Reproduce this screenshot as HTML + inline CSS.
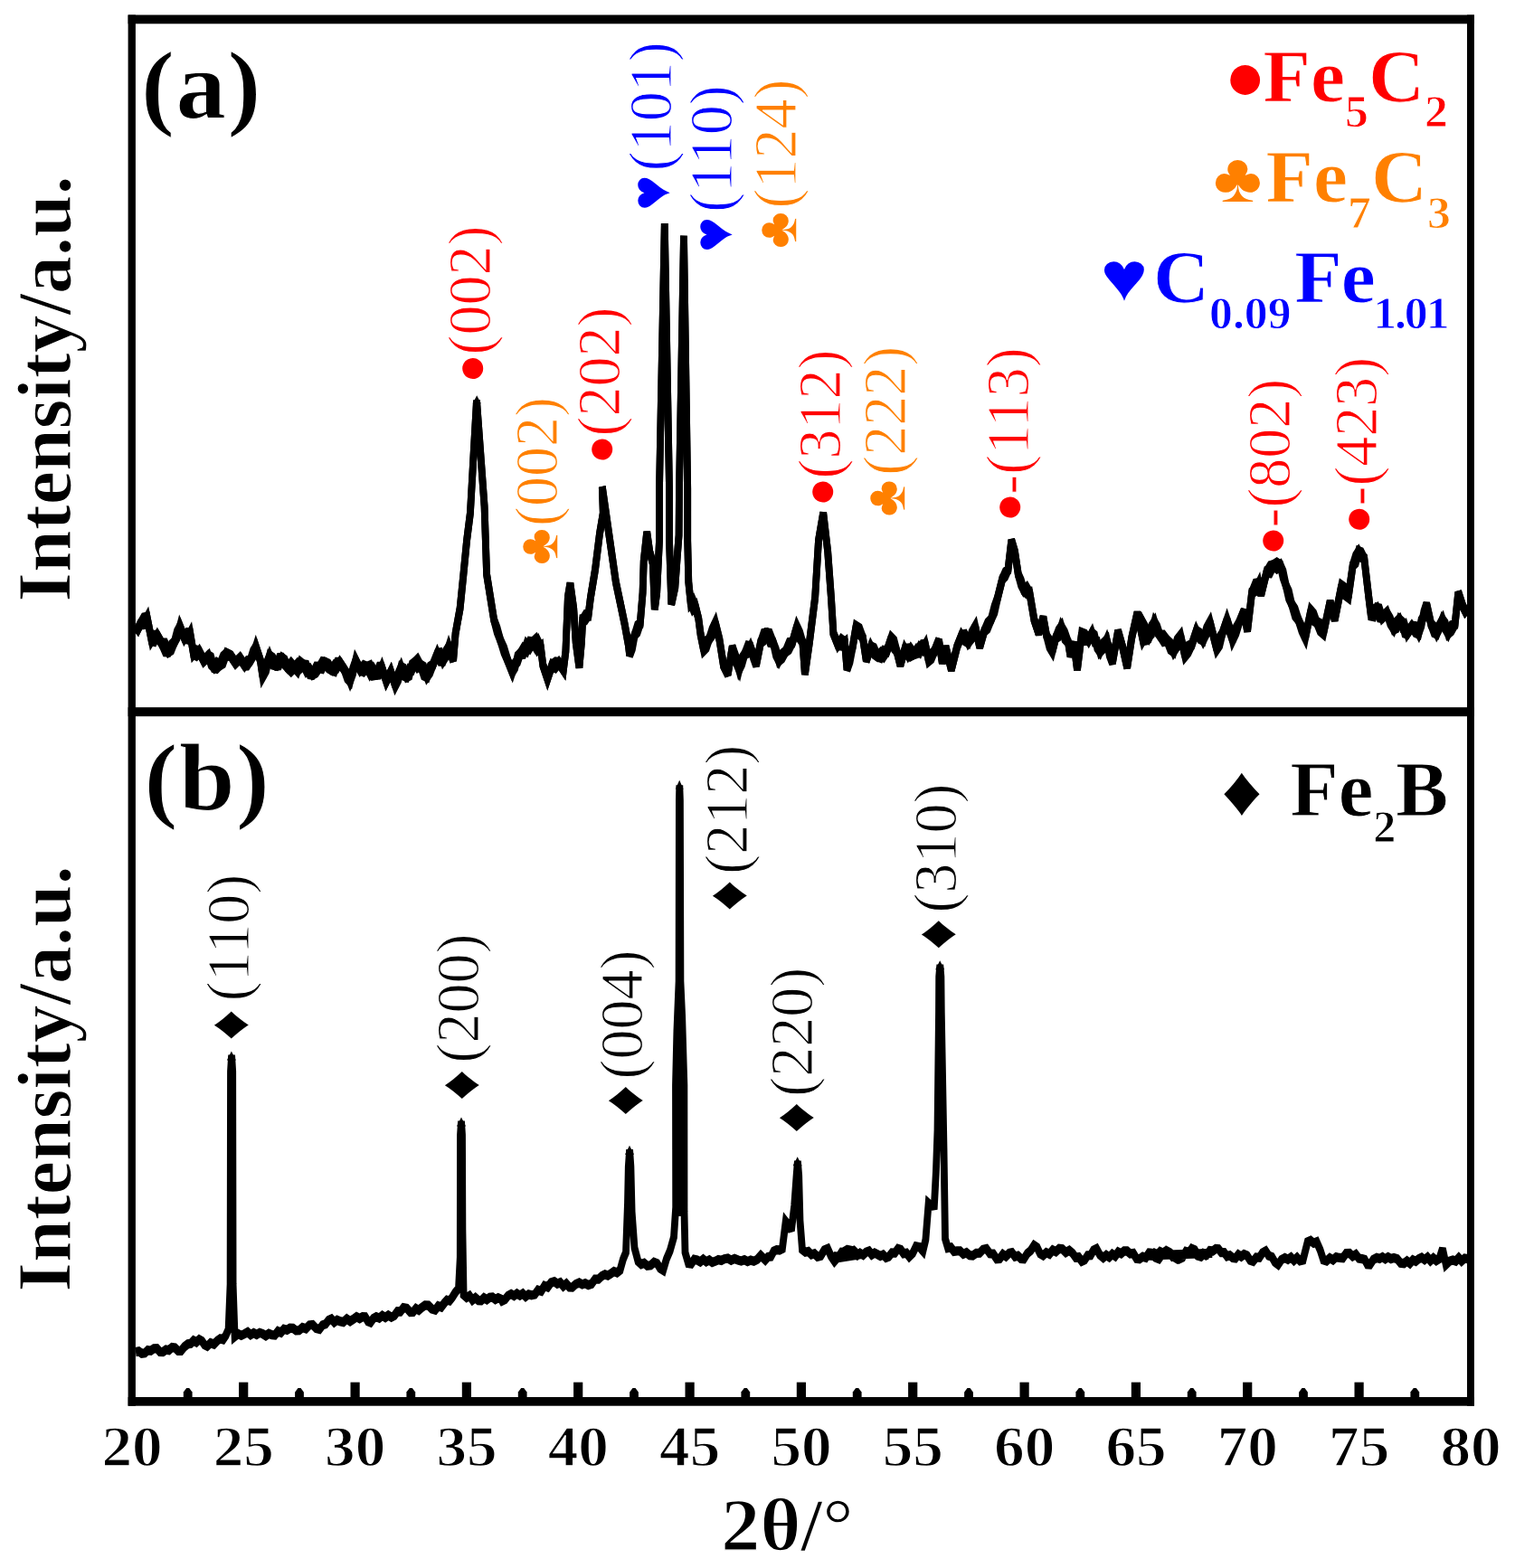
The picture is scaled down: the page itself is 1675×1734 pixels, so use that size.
<!DOCTYPE html>
<html lang="en">
<head>
<meta charset="utf-8">
<title>XRD patterns</title>
<style>
html,body{margin:0;padding:0;background:#fff;}
body{width:1675px;height:1734px;overflow:hidden;}
svg{display:block;}
text{font-family:"Liberation Serif","DejaVu Serif",serif;}
.b{font-weight:bold;}
.pk{font-size:66px;stroke:#fff;stroke-width:1.1px;}
.yl{stroke:#fff;stroke-width:1.2px;}
.tl text{font-size:64px;font-weight:bold;stroke:#fff;stroke-width:1.3px;}
.xl{stroke:#fff;stroke-width:1.4px;}
.ab{stroke:#fff;stroke-width:1px;}
.leg{font-size:83px;font-weight:bold;stroke:#fff;stroke-width:0.9px;}
.sub{font-size:50px;}
</style>
</head>
<body>
<svg width="1675" height="1734" viewBox="0 0 1675 1734">
<rect width="1675" height="1734" fill="#fff"/>
<!-- curves -->
<g fill="none" stroke="#000" stroke-width="7.8" stroke-linejoin="miter" stroke-miterlimit="2.2" stroke-linecap="butt">
<path transform="scale(1,1.6)" d="M150.0,437.76 L155.0,431.49 L158.8,427.29 L162.6,426.79 L167.6,442.46 L170.7,442.95 L173.9,439.33 L178.9,444.82 L182.6,444.82 L186.4,450.30 L189.5,449.04 L192.7,444.03 L195.8,436.59 L198.9,433.06 L203.9,440.90 L207.1,441.43 L210.2,437.76 L214.0,451.87 L217.1,449.73 L220.2,450.30 L225.3,456.57 L230.3,453.44 L233.4,459.32 L236.5,461.27 L239.7,458.30 L242.8,459.70 L246.6,458.27 L250.3,451.87 L255.3,453.44 L260.4,458.14 L265.4,455.00 L270.4,459.70 L273.5,456.95 L276.7,456.57 L279.8,453.44 L282.9,447.17 L287.9,456.57 L290.5,467.54 L294.2,459.31 L298.0,453.44 L301.7,459.09 L305.5,459.70 L308.6,455.05 L311.8,455.00 L314.9,459.22 L318.0,461.27 L321.8,458.43 L325.6,461.27 L328.9,463.56 L332.2,458.00 L335.6,459.70 L338.9,463.95 L342.3,462.58 L345.6,465.97 L349.4,464.66 L353.1,461.27 L356.3,457.71 L359.4,458.14 L363.2,461.61 L366.9,462.84 L369.9,459.91 L372.8,461.16 L375.7,458.14 L380.7,462.84 L383.9,465.69 L387.0,470.67 L390.1,465.50 L393.3,456.57 L398.3,462.84 L402.0,460.23 L405.8,461.27 L409.1,465.42 L412.5,462.43 L415.8,465.97 L419.0,465.82 L422.1,461.27 L427.1,470.67 L432.1,464.41 L437.1,473.81 L440.3,465.60 L443.4,461.27 L446.5,466.65 L449.7,467.54 L452.6,462.54 L455.5,462.80 L458.5,458.14 L461.6,456.05 L464.7,459.70 L468.5,466.49 L472.2,467.54 L475.4,461.05 L478.5,459.70 L483.5,451.87 L486.7,456.55 L489.8,456.57 L492.9,450.27 L496.1,447.17 L501.1,456.57 L503.6,437.76 L508.6,420.52 L512.4,397.02 L516.1,373.51 L519.9,354.70 L527.0,276.88 L535.6,350.00 L538.1,397.02 L546.1,428.36 L549.6,436.85 L553.2,442.46 L557.3,447.97 L561.4,456.57 L566.4,464.41 L569.4,461.36 L572.3,453.61 L575.2,451.87 L578.7,451.66 L582.1,445.36 L585.6,447.72 L589.0,444.03 L591.9,442.28 L594.9,448.71 L597.8,447.17 L600.3,459.70 L605.3,469.11 L610.3,459.70 L614.1,457.91 L617.9,458.14 L622.9,462.84 L625.4,450.30 L627.9,412.69 L630.4,403.28 L634.2,420.52 L636.7,444.03 L640.4,461.27 L642.9,444.03 L644.2,428.36 L647.3,428.19 L650.5,425.23 L653.0,412.69 L658.0,393.88 L663.0,368.81 L666.8,354.70 L665.8,336.56 L680.9,402.40 L685.8,416.82 L690.6,431.25 L694.8,445.67 L696.2,452.88 L699.0,442.96 L701.9,438.46 L704.8,436.74 L707.7,431.25 L710.6,409.61 L711.7,387.98 L715.2,367.79 L718.3,381.49 L721.8,389.42 L723.8,421.15 L726.2,409.61 L729.0,373.56 L729.0,337.50 L734.8,154.56 L740.0,337.50 L740.0,373.56 L742.3,417.54 L746.3,406.01 L748.8,384.37 L750.6,369.95 L751.0,337.50 L756.0,163.00 L760.2,337.50 L760.2,373.56 L761.3,402.40 L763.7,416.82 L766.2,415.07 L768.8,418.99 L772.3,427.64 L774.6,438.46 L778.1,449.27 L781.0,447.42 L783.8,442.06 L787.3,435.15 L790.8,430.53 L795.4,442.06 L800.0,460.09 L804.7,465.97 L809.7,447.17 L813.4,457.19 L817.2,462.84 L820.3,454.89 L823.5,451.87 L826.6,451.03 L829.7,447.17 L832.9,452.27 L836.0,459.70 L841.0,444.03 L844.2,442.53 L847.3,437.76 L851.1,438.09 L854.8,444.03 L857.9,452.72 L861.1,456.57 L864.8,452.21 L868.6,450.30 L872.4,448.63 L876.1,444.03 L881.1,433.06 L884.3,437.35 L887.4,444.03 L889.9,465.97 L894.9,444.03 L901.2,412.69 L905.0,373.51 L910.2,354.70 L915.2,381.34 L918.9,412.69 L921.4,437.76 L926.4,445.60 L930.2,445.93 L934.0,444.03 L936.5,462.84 L939.6,452.51 L942.7,447.17 L946.5,433.06 L950.3,438.32 L954.0,440.90 L957.8,456.57 L962.8,447.17 L966.6,448.25 L970.3,453.44 L973.7,454.23 L977.0,449.98 L980.4,450.30 L985.4,440.90 L988.5,447.97 L991.6,450.30 L995.4,459.70 L1000.4,448.73 L1003.8,448.53 L1007.1,453.03 L1010.5,451.87 L1013.6,449.08 L1016.7,450.53 L1019.9,445.76 L1023.0,445.60 L1026.8,456.57 L1029.9,454.95 L1033.0,450.30 L1038.0,442.46 L1041.8,458.14 L1045.6,447.17 L1051.8,462.84 L1058.1,447.17 L1063.1,439.33 L1066.9,438.86 L1070.6,444.03 L1074.4,441.05 L1078.2,433.06 L1083.2,447.17 L1088.2,436.20 L1091.9,430.70 L1095.7,428.36 L1099.5,423.18 L1103.2,412.69 L1108.2,400.15 L1111.4,395.62 L1114.5,393.88 L1118.3,373.51 L1122.0,381.34 L1125.8,397.02 L1128.9,404.24 L1132.1,407.99 L1135.2,406.17 L1138.3,409.55 L1143.4,428.36 L1148.4,437.76 L1153.4,426.79 L1157.1,439.33 L1160.3,447.02 L1163.4,450.30 L1167.2,440.90 L1170.3,435.79 L1173.4,433.06 L1177.2,441.40 L1181.0,444.03 L1183.5,453.44 L1187.2,444.03 L1191.0,462.84 L1196.0,437.76 L1199.8,438.71 L1203.5,442.46 L1207.3,437.76 L1210.2,443.43 L1213.1,443.67 L1216.1,450.30 L1219.8,448.00 L1223.6,442.46 L1226.7,448.74 L1229.9,458.14 L1236.1,436.20 L1241.1,447.17 L1246.2,461.27 L1251.2,440.90 L1257.4,423.66 L1263.7,442.46 L1267.5,442.04 L1271.2,439.33 L1258.8,425.23 L1263.8,437.76 L1266.9,438.16 L1270.0,440.90 L1273.2,437.51 L1276.3,429.93 L1279.4,433.17 L1282.6,439.33 L1286.3,443.03 L1290.1,442.46 L1293.9,444.68 L1297.6,450.30 L1301.4,446.67 L1305.2,439.33 L1310.2,453.44 L1313.9,446.72 L1317.7,445.60 L1322.7,436.20 L1326.5,441.24 L1330.2,442.46 L1334.0,434.12 L1337.7,429.93 L1345.3,448.73 L1348.4,445.87 L1351.5,437.76 L1356.6,428.36 L1359.7,434.06 L1362.8,442.46 L1366.6,437.49 L1370.3,429.93 L1375.4,422.09 L1379.1,436.20 L1384.1,409.55 L1387.9,403.72 L1391.7,403.28 L1394.2,411.12 L1400.4,395.45 L1404.2,395.63 L1408.0,390.75 L1411.7,389.27 L1415.5,390.75 L1418.6,399.16 L1421.8,404.85 L1424.9,408.73 L1428.0,417.39 L1431.8,425.64 L1435.5,428.36 L1439.3,433.26 L1443.1,440.90 L1449.3,422.09 L1452.5,428.79 L1455.6,429.93 L1459.4,431.19 L1463.1,437.76 L1470.6,415.82 L1475.7,428.36 L1483.2,404.85 L1486.9,410.90 L1490.7,412.69 L1495.7,390.75 L1498.9,384.25 L1502.0,381.34 L1505.1,384.90 L1508.3,386.05 L1513.3,412.69 L1515.8,425.23 L1518.9,421.80 L1522.1,420.52 L1525.2,426.46 L1528.3,426.79 L1533.3,423.66 L1537.1,427.69 L1540.9,434.63 L1544.0,433.82 L1547.1,428.36 L1550.1,430.01 L1553.0,437.17 L1555.9,437.76 L1560.9,433.06 L1564.7,433.29 L1568.4,437.76 L1571.4,432.53 L1574.3,422.85 L1577.2,417.39 L1582.2,431.49 L1585.4,436.98 L1588.5,437.76 L1591.6,431.93 L1594.8,428.36 L1597.9,434.49 L1601.0,437.76 L1604.8,432.58 L1608.6,431.49 L1612.3,409.55 L1617.3,418.96 L1622.4,425.23"/>
<path transform="scale(1,1.6)" d="M150.0,437.76 L155.0,431.49 L158.8,431.17 L162.6,426.79 L167.6,442.46 L170.7,439.25 L173.9,439.33 L178.9,444.82 L182.6,450.14 L186.4,450.30 L189.5,445.62 L192.7,444.03 L195.8,440.51 L198.9,433.06 L203.9,440.90 L207.1,437.68 L210.2,437.76 L214.0,451.87 L217.1,452.87 L220.2,450.30 L225.3,456.57 L230.3,453.44 L233.4,454.53 L236.5,461.27 L239.7,461.69 L242.8,459.70 L246.6,453.95 L250.3,451.87 L255.3,453.44 L260.4,458.14 L265.4,455.00 L270.4,459.70 L273.5,459.56 L276.7,456.57 L279.8,450.21 L282.9,447.17 L287.9,456.57 L290.5,467.54 L294.2,463.36 L298.0,453.44 L301.7,454.95 L305.5,459.70 L308.6,459.50 L311.8,455.00 L314.9,456.35 L318.0,461.27 L321.8,463.64 L325.6,461.27 L328.9,458.91 L332.2,461.55 L335.6,459.70 L338.9,459.98 L342.3,465.65 L345.6,465.97 L349.4,461.13 L353.1,461.27 L356.3,461.76 L359.4,458.14 L363.2,459.11 L366.9,462.84 L369.9,463.54 L372.8,458.14 L375.7,458.14 L380.7,462.84 L383.9,468.72 L387.0,470.67 L390.1,462.21 L393.3,456.57 L398.3,462.84 L402.0,463.83 L405.8,461.27 L409.1,460.36 L412.5,466.38 L415.8,465.97 L419.0,461.21 L422.1,461.27 L427.1,470.67 L432.1,464.41 L437.1,473.81 L440.3,469.96 L443.4,461.27 L446.5,462.30 L449.7,467.54 L452.6,466.62 L455.5,459.52 L458.5,458.14 L461.6,461.08 L464.7,459.70 L468.5,461.16 L472.2,467.54 L475.4,464.81 L478.5,459.70 L483.5,451.87 L486.7,451.46 L489.8,456.57 L492.9,453.56 L496.1,447.17 L501.1,456.57 L503.6,437.76 L508.6,420.52 L512.4,397.02 L516.1,373.51 L519.9,354.70 L527.0,276.88 L535.6,350.00 L538.1,397.02 L546.1,428.36 L549.6,434.15 L553.2,442.46 L557.3,450.80 L561.4,456.57 L566.4,464.41 L569.4,458.58 L572.3,457.18 L575.2,451.87 L578.7,448.16 L582.1,449.73 L585.6,443.76 L589.0,444.03 L591.9,446.96 L594.9,443.37 L597.8,447.17 L600.3,459.70 L605.3,469.11 L610.3,459.70 L614.1,461.16 L617.9,458.14 L622.9,462.84 L625.4,450.30 L627.9,412.69 L630.4,403.28 L634.2,420.52 L636.7,444.03 L640.4,461.27 L642.9,444.03 L644.2,428.36 L647.3,425.19 L650.5,425.23 L653.0,412.69 L658.0,393.88 L663.0,368.81 L666.8,354.70 L665.8,336.56 L680.9,402.40 L685.8,416.82 L690.6,431.25 L694.8,445.67 L696.2,452.88 L699.0,448.31 L701.9,438.46 L704.8,432.54 L707.7,431.25 L710.6,409.61 L711.7,387.98 L715.2,367.79 L718.3,381.49 L721.8,389.42 L723.8,421.15 L726.2,409.61 L729.0,373.56 L729.0,337.50 L734.8,154.56 L740.0,337.50 L740.0,373.56 L742.3,417.54 L746.3,406.01 L748.8,384.37 L750.6,369.95 L751.0,337.50 L756.0,163.00 L760.2,337.50 L760.2,373.56 L761.3,402.40 L763.7,416.82 L766.2,420.72 L768.8,418.99 L772.3,427.64 L774.6,438.46 L778.1,449.27 L781.0,443.29 L783.8,442.06 L787.3,439.11 L790.8,430.53 L795.4,442.06 L800.0,460.09 L804.7,465.97 L809.7,447.17 L813.4,453.61 L817.2,462.84 L820.3,458.88 L823.5,451.87 L826.6,446.69 L829.7,447.17 L832.9,454.48 L836.0,459.70 L841.0,444.03 L844.2,438.17 L847.3,437.76 L851.1,443.61 L854.8,444.03 L857.9,449.04 L861.1,456.57 L864.8,454.72 L868.6,450.30 L872.4,444.45 L876.1,444.03 L881.1,433.06 L884.3,441.35 L887.4,444.03 L889.9,465.97 L894.9,444.03 L901.2,412.69 L905.0,373.51 L910.2,354.70 L915.2,381.34 L918.9,412.69 L921.4,437.76 L926.4,445.60 L930.2,442.18 L934.0,444.03 L936.5,462.84 L939.6,457.36 L942.7,447.17 L946.5,433.06 L950.3,434.55 L954.0,440.90 L957.8,456.57 L962.8,447.17 L966.6,451.88 L970.3,453.44 L973.7,451.37 L977.0,453.53 L980.4,450.30 L985.4,440.90 L988.5,442.94 L991.6,450.30 L995.4,459.70 L1000.4,448.73 L1003.8,452.56 L1007.1,448.85 L1010.5,451.87 L1013.6,451.32 L1016.7,447.40 L1019.9,449.01 L1023.0,445.60 L1026.8,456.57 L1029.9,452.00 L1033.0,450.30 L1038.0,442.46 L1041.8,458.14 L1045.6,447.17 L1051.8,462.84 L1058.1,447.17 L1063.1,439.33 L1066.9,442.74 L1070.6,444.03 L1074.4,437.18 L1078.2,433.06 L1083.2,447.17 L1088.2,436.20 L1091.9,434.22 L1095.7,428.36 L1099.5,419.28 L1103.2,412.69 L1108.2,400.15 L1111.4,398.23 L1114.5,393.88 L1118.3,373.51 L1122.0,381.34 L1125.8,397.02 L1128.9,401.19 L1132.1,407.99 L1135.2,409.84 L1138.3,409.55 L1143.4,428.36 L1148.4,437.76 L1153.4,426.79 L1157.1,439.33 L1160.3,442.35 L1163.4,450.30 L1167.2,440.90 L1170.3,439.60 L1173.4,433.06 L1177.2,437.16 L1181.0,444.03 L1183.5,453.44 L1187.2,444.03 L1191.0,462.84 L1196.0,437.76 L1199.8,442.31 L1203.5,442.46 L1207.3,437.76 L1210.2,439.30 L1213.1,447.58 L1216.1,450.30 L1219.8,444.75 L1223.6,442.46 L1226.7,452.95 L1229.9,458.14 L1236.1,436.20 L1241.1,447.17 L1246.2,461.27 L1251.2,440.90 L1257.4,423.66 L1263.7,442.46 L1267.5,438.47 L1271.2,439.33 L1258.8,425.23 L1263.8,437.76 L1266.9,441.50 L1270.0,440.90 L1273.2,432.92 L1276.3,429.93 L1279.4,436.71 L1282.6,439.33 L1286.3,439.30 L1290.1,442.46 L1293.9,448.67 L1297.6,450.30 L1301.4,442.34 L1305.2,439.33 L1310.2,453.44 L1313.9,450.63 L1317.7,445.60 L1322.7,436.20 L1326.5,437.72 L1330.2,442.46 L1334.0,437.75 L1337.7,429.93 L1345.3,448.73 L1348.4,440.59 L1351.5,437.76 L1356.6,428.36 L1359.7,436.96 L1362.8,442.46 L1366.6,433.93 L1370.3,429.93 L1375.4,422.09 L1379.1,436.20 L1384.1,409.55 L1387.9,408.24 L1391.7,403.28 L1394.2,411.12 L1400.4,395.45 L1404.2,391.38 L1408.0,390.75 L1411.7,392.69 L1415.5,390.75 L1418.6,395.12 L1421.8,404.85 L1424.9,413.36 L1428.0,417.39 L1431.8,421.14 L1435.5,428.36 L1439.3,435.92 L1443.1,440.90 L1449.3,422.09 L1452.5,424.36 L1455.6,429.93 L1459.4,435.73 L1463.1,437.76 L1470.6,415.82 L1475.7,428.36 L1483.2,404.85 L1486.9,406.56 L1490.7,412.69 L1495.7,390.75 L1498.9,388.92 L1502.0,381.34 L1505.1,382.08 L1508.3,386.05 L1513.3,412.69 L1515.8,425.23 L1518.9,425.64 L1522.1,420.52 L1525.2,420.95 L1528.3,426.79 L1533.3,423.66 L1537.1,430.98 L1540.9,434.63 L1544.0,430.07 L1547.1,428.36 L1550.1,432.94 L1553.0,431.90 L1555.9,437.76 L1560.9,433.06 L1564.7,436.74 L1568.4,437.76 L1571.4,428.75 L1574.3,426.41 L1577.2,417.39 L1582.2,431.49 L1585.4,433.31 L1588.5,437.76 L1591.6,434.13 L1594.8,428.36 L1597.9,430.86 L1601.0,437.76 L1604.8,435.73 L1608.6,431.49 L1612.3,409.55 L1617.3,418.96 L1622.4,425.23"/>
<path transform="scale(1,1.32)" d="M150.0,1132.62 L153.4,1132.09 L156.7,1133.94 L160.1,1133.57 L163.4,1131.14 L166.8,1131.64 L170.1,1129.77 L173.5,1129.66 L176.8,1132.56 L180.1,1132.62 L183.5,1130.77 L186.8,1131.12 L190.2,1128.82 L193.5,1129.21 L196.9,1131.68 L200.2,1131.67 L204.0,1128.22 L207.7,1125.97 L210.9,1125.64 L214.0,1123.12 L217.1,1124.46 L220.3,1122.17 L223.2,1123.42 L226.1,1126.72 L229.1,1127.87 L232.8,1125.14 L236.6,1126.17 L240.4,1123.12 L243.5,1121.55 L246.6,1122.17 L249.6,1118.82 L252.6,1113.64 L254.6,1075.76 L255.0,897.73 L256.1,884.09 L257.2,897.73 L257.6,1075.76 L259.6,1119.70 L263.2,1117.45 L266.8,1118.75 L270.5,1117.42 L273.8,1116.04 L277.1,1118.23 L280.5,1116.75 L283.8,1118.06 L287.2,1116.58 L290.5,1117.42 L293.9,1119.07 L297.2,1117.34 L300.6,1118.37 L303.9,1118.52 L307.3,1115.31 L310.6,1116.42 L313.9,1113.50 L317.3,1114.21 L320.6,1112.67 L324.0,1112.71 L327.3,1114.67 L330.7,1114.57 L334.4,1112.18 L338.2,1113.14 L342.0,1110.16 L345.7,1109.82 L349.5,1112.82 L353.2,1113.62 L356.6,1110.11 L359.9,1109.37 L363.3,1106.01 L366.4,1104.94 L369.6,1107.71 L372.7,1105.96 L375.8,1106.97 L379.6,1107.59 L383.4,1104.97 L387.1,1106.93 L390.9,1105.06 L394.2,1103.18 L397.6,1104.61 L400.9,1103.16 L403.8,1103.25 L406.8,1106.98 L409.7,1107.92 L412.8,1104.60 L416.0,1103.16 L419.3,1104.28 L422.7,1102.17 L426.0,1103.70 L429.3,1101.96 L432.7,1103.56 L436.0,1102.21 L439.4,1098.71 L442.7,1098.87 L446.1,1095.56 L449.8,1096.07 L453.6,1099.36 L456.7,1099.25 L459.9,1096.25 L463.0,1097.63 L466.1,1095.56 L469.9,1093.51 L473.7,1093.66 L477.4,1096.54 L481.2,1097.46 L484.5,1094.20 L487.9,1095.12 L491.2,1091.76 L494.2,1089.18 L497.1,1089.78 L500.0,1087.01 L503.5,1082.69 L507.0,1079.55 L508.8,1053.03 L509.0,950.76 L510.0,939.39 L511.0,950.76 L511.4,1030.30 L512.6,1084.85 L515.9,1087.00 L519.1,1085.53 L522.4,1089.14 L525.6,1087.21 L528.9,1089.48 L532.0,1089.67 L535.1,1087.33 L538.3,1088.82 L541.4,1087.01 L544.5,1086.79 L547.7,1088.66 L550.8,1087.31 L553.9,1088.34 L555.1,1089.86 L558.4,1088.60 L561.7,1085.47 L565.1,1084.16 L568.3,1085.58 L571.5,1083.77 L574.8,1085.34 L578.0,1083.79 L581.2,1086.23 L584.4,1084.36 L587.7,1085.11 L591.3,1084.45 L594.8,1080.78 L598.4,1081.62 L602.0,1077.26 L605.6,1078.34 L609.2,1074.53 L612.8,1073.70 L616.1,1075.44 L619.4,1074.41 L622.8,1077.48 L626.1,1075.40 L629.5,1078.34 L632.8,1078.46 L636.6,1075.85 L640.4,1074.66 L643.7,1076.05 L647.0,1075.16 L650.4,1076.56 L654.1,1075.66 L657.9,1071.64 L661.7,1071.64 L665.4,1068.95 L668.8,1067.79 L672.1,1068.63 L675.5,1067.05 L678.8,1065.21 L682.2,1066.24 L685.5,1064.20 L688.8,1055.25 L692.0,1049.24 L694.0,1007.58 L694.8,977.27 L696.1,963.26 L697.4,977.27 L698.6,1015.15 L701.5,1045.45 L705.5,1056.82 L708.9,1059.22 L712.2,1058.17 L715.6,1060.40 L719.4,1060.11 L723.1,1057.55 L726.5,1058.57 L729.8,1062.57 L733.2,1064.20 L736.9,1054.71 L740.7,1048.05 L745.0,1036.36 L747.2,1011.36 L747.0,909.09 L748.4,863.64 L750.6,821.97 L750.9,670.45 L751.3,657.95 L751.9,670.45 L752.4,821.97 L754.2,852.27 L756.4,909.09 L756.5,1015.15 L757.5,1049.24 L761.0,1058.33 L764.3,1058.74 L767.5,1055.15 L770.8,1055.65 L774.2,1057.12 L777.5,1055.05 L780.8,1057.05 L784.2,1055.65 L787.5,1057.60 L790.9,1056.60 L794.2,1055.37 L797.6,1055.93 L800.9,1054.70 L804.7,1054.20 L808.4,1055.86 L812.2,1054.55 L816.0,1055.65 L819.5,1056.42 L823.0,1055.50 L826.5,1056.90 L830.0,1055.78 L833.5,1056.60 L837.3,1055.11 L841.1,1051.85 L846.1,1055.65 L849.2,1052.96 L852.3,1052.76 L855.5,1048.10 L858.6,1047.10 L861.8,1047.30 L864.9,1046.15 L868.7,1023.34 L871.8,1026.36 L874.9,1030.94 L878.2,1010.04 L880.6,984.85 L881.9,972.73 L883.2,984.85 L884.5,1022.73 L887.0,1046.97 L890.4,1049.01 L893.7,1048.41 L897.1,1051.12 L900.4,1050.27 L903.8,1052.80 L907.5,1052.09 L911.3,1047.37 L915.1,1046.15 L918.8,1052.38 L922.6,1056.60 L926.0,1053.61 L929.5,1052.48 L932.9,1048.60 L936.4,1047.10 L940.2,1048.84 L943.9,1047.65 L947.7,1050.64 L951.4,1050.90 L920.0,1054.70 L923.5,1052.63 L927.0,1053.12 L930.5,1049.09 L934.0,1049.29 L937.6,1047.10 L940.9,1047.62 L944.3,1050.82 L947.6,1051.85 L950.9,1049.85 L954.3,1051.44 L957.6,1049.00 L960.8,1048.09 L963.9,1051.16 L967.0,1049.64 L970.2,1050.90 L973.3,1052.26 L976.4,1051.15 L979.6,1053.61 L982.7,1052.80 L986.1,1049.53 L989.4,1049.66 L992.8,1046.15 L995.9,1046.95 L999.0,1050.22 L1002.2,1049.81 L1005.3,1052.80 L1009.1,1050.02 L1012.8,1044.25 L1016.6,1044.78 L1020.4,1048.05 L1023.4,1038.54 L1026.6,1008.13 L1029.8,1010.41 L1032.9,1010.04 L1034.9,981.53 L1036.5,946.97 L1038.0,848.48 L1038.2,818.18 L1039.3,808.33 L1040.4,818.18 L1040.8,848.48 L1043.5,962.12 L1045.0,1037.88 L1048.0,1045.45 L1051.3,1044.98 L1054.7,1048.44 L1058.0,1048.05 L1061.5,1048.05 L1065.0,1050.61 L1068.5,1049.45 L1072.0,1051.65 L1075.5,1051.85 L1079.3,1049.86 L1083.1,1049.80 L1086.8,1046.79 L1090.6,1046.15 L1094.4,1050.21 L1098.1,1050.38 L1101.9,1054.70 L1105.3,1054.48 L1108.8,1050.87 L1112.2,1052.64 L1115.7,1049.95 L1118.9,1049.43 L1122.2,1052.74 L1125.5,1052.05 L1128.7,1054.50 L1132.0,1054.70 L1135.8,1050.17 L1139.5,1047.83 L1143.3,1043.30 L1146.6,1045.00 L1150.0,1050.41 L1153.3,1051.85 L1156.8,1049.35 L1160.3,1050.57 L1163.9,1047.25 L1167.4,1048.60 L1170.9,1046.15 L1174.6,1046.48 L1178.4,1049.23 L1182.2,1047.57 L1185.9,1049.95 L1189.3,1053.47 L1192.6,1053.11 L1196.0,1056.60 L1199.2,1055.51 L1202.5,1051.71 L1205.8,1051.64 L1209.0,1047.38 L1212.3,1046.15 L1216.0,1051.27 L1219.8,1053.75 L1223.1,1051.55 L1226.4,1053.24 L1229.7,1050.68 L1233.0,1052.36 L1236.3,1048.94 L1239.6,1050.17 L1242.8,1048.10 L1246.1,1048.05 L1249.6,1050.39 L1253.0,1049.95 L1256.5,1054.36 L1259.9,1054.70 L1263.4,1052.84 L1266.8,1053.67 L1270.3,1049.64 L1273.7,1049.95 L1277.5,1053.50 L1281.3,1054.70 L1284.2,1051.61 L1287.1,1051.33 L1290.0,1048.05 L1293.8,1049.61 L1297.6,1053.03 L1301.3,1054.70 L1304.6,1051.50 L1307.9,1052.45 L1311.1,1048.52 L1314.4,1049.31 L1317.6,1046.15 L1320.6,1047.09 L1323.5,1051.34 L1326.4,1051.85 L1329.9,1050.03 L1333.3,1051.64 L1336.8,1049.64 L1340.2,1049.95 L1270.1,1051.85 L1273.2,1052.03 L1276.3,1049.81 L1279.5,1051.06 L1282.6,1048.53 L1285.7,1049.62 L1288.9,1048.05 L1292.6,1049.05 L1296.4,1052.80 L1300.2,1052.16 L1303.9,1054.70 L1307.4,1053.54 L1310.8,1049.32 L1314.3,1049.71 L1317.7,1046.15 L1321.1,1047.42 L1324.4,1052.02 L1327.8,1052.80 L1331.0,1050.44 L1334.3,1051.19 L1337.5,1047.76 L1340.8,1048.03 L1344.1,1046.15 L1347.2,1046.45 L1350.3,1049.39 L1353.5,1049.41 L1356.6,1052.53 L1359.7,1051.78 L1362.9,1053.75 L1366.0,1054.03 L1369.1,1051.08 L1372.3,1052.69 L1375.4,1050.90 L1378.8,1051.95 L1382.1,1055.74 L1385.5,1056.60 L1388.9,1053.38 L1392.4,1053.63 L1395.8,1049.55 L1399.3,1048.05 L1402.7,1051.98 L1406.2,1052.97 L1409.6,1057.40 L1413.1,1059.45 L1416.8,1055.31 L1420.6,1053.75 L1423.9,1055.10 L1427.3,1053.30 L1430.6,1055.98 L1434.0,1053.59 L1437.3,1056.30 L1440.6,1055.65 L1445.7,1040.44 L1449.0,1039.31 L1452.4,1041.47 L1455.7,1040.44 L1459.5,1047.01 L1463.2,1055.65 L1466.7,1056.48 L1470.3,1053.91 L1473.8,1055.56 L1477.3,1053.13 L1480.8,1053.75 L1484.6,1053.94 L1488.3,1050.00 L1492.1,1049.95 L1495.5,1052.53 L1499.0,1050.87 L1502.4,1054.30 L1505.9,1054.70 L1508.8,1055.20 L1511.7,1059.33 L1514.7,1059.45 L1518.4,1055.24 L1522.2,1053.75 L1525.3,1054.41 L1528.5,1053.10 L1531.6,1054.71 L1534.7,1053.15 L1537.9,1054.52 L1541.0,1053.75 L1544.8,1054.73 L1548.5,1058.11 L1552.3,1058.50 L1555.6,1056.44 L1558.8,1058.39 L1562.1,1055.54 L1565.3,1056.69 L1568.6,1054.70 L1571.8,1053.52 L1575.0,1055.37 L1578.3,1053.30 L1581.5,1056.18 L1584.7,1053.95 L1588.0,1056.17 L1591.2,1054.70 L1594.9,1046.15 L1598.7,1059.45 L1602.5,1056.63 L1606.2,1055.65 L1609.5,1056.47 L1612.8,1053.76 L1616.0,1056.43 L1619.3,1054.20 L1622.5,1054.70"/>
</g>
<!-- peak tips -->
<g fill="#000">
<path d="M250.9,1172.5 L255.9,1162.5 L260.9,1172.5 Z"/>
<path d="M505.0,1245.4 L510.0,1235.4 L515.0,1245.4 Z"/>
<path d="M691.0,1276.8 L696.0,1266.8 L701.0,1276.8 Z"/>
<path d="M746.8,872.8 L751.2,862.8 L755.6,872.8 Z"/>
<path d="M876.7,1289.3 L881.7,1279.3 L886.7,1289.3 Z"/>
<path d="M1034.2,1072.2 L1039.2,1062.2 L1044.2,1072.2 Z"/>
<path d="M522.6,446.2 L527.2,437.2 L531.8,446.2 Z"/>
<rect x="749" y="1095" width="6" height="250"/>
</g>
<!-- frame -->
<g fill="#000">
<rect x="141.6" y="16.5" width="1488.3" height="9.8"/>
<rect x="141.6" y="782.2" width="1488.3" height="10"/>
<rect x="141.6" y="1545" width="1488.3" height="9.7"/>
<rect x="141.6" y="16.5" width="8.3" height="1538.2"/>
<rect x="1622" y="16.5" width="7.9" height="1538.2"/>
<path d="M202.8,1547 V1539.5 L206.2,1535 H209.2 L212.6,1539.5 V1547 Z"/>
<rect x="264.1" y="1528.6" width="10.2" height="18"/>
<path d="M326.1,1547 V1539.5 L329.5,1535 H332.5 L335.9,1539.5 V1547 Z"/>
<rect x="387.5" y="1528.6" width="10.2" height="18"/>
<path d="M449.4,1547 V1539.5 L452.8,1535 H455.8 L459.2,1539.5 V1547 Z"/>
<rect x="510.8" y="1528.6" width="10.2" height="18"/>
<path d="M572.8,1547 V1539.5 L576.2,1535 H579.2 L582.6,1539.5 V1547 Z"/>
<rect x="634.1" y="1528.6" width="10.2" height="18"/>
<path d="M696.1,1547 V1539.5 L699.5,1535 H702.5 L705.9,1539.5 V1547 Z"/>
<rect x="757.5" y="1528.6" width="10.2" height="18"/>
<path d="M819.4,1547 V1539.5 L822.8,1535 H825.8 L829.2,1539.5 V1547 Z"/>
<rect x="880.8" y="1528.6" width="10.2" height="18"/>
<path d="M942.8,1547 V1539.5 L946.2,1535 H949.2 L952.6,1539.5 V1547 Z"/>
<rect x="1004.1" y="1528.6" width="10.2" height="18"/>
<path d="M1066.1,1547 V1539.5 L1069.5,1535 H1072.5 L1075.9,1539.5 V1547 Z"/>
<rect x="1127.5" y="1528.6" width="10.2" height="18"/>
<path d="M1189.4,1547 V1539.5 L1192.8,1535 H1195.8 L1199.2,1539.5 V1547 Z"/>
<rect x="1250.8" y="1528.6" width="10.2" height="18"/>
<path d="M1312.8,1547 V1539.5 L1316.2,1535 H1319.2 L1322.6,1539.5 V1547 Z"/>
<rect x="1374.1" y="1528.6" width="10.2" height="18"/>
<path d="M1436.1,1547 V1539.5 L1439.5,1535 H1442.5 L1445.9,1539.5 V1547 Z"/>
<rect x="1497.5" y="1528.6" width="10.2" height="18"/>
<path d="M1559.4,1547 V1539.5 L1562.8,1535 H1565.8 L1569.2,1539.5 V1547 Z"/>
</g>
<g class="tl" fill="#000">
<text transform="translate(146.0,1620.7) scale(1.05,1)" text-anchor="middle">20</text>
<text transform="translate(269.3,1620.7) scale(1.05,1)" text-anchor="middle">25</text>
<text transform="translate(392.7,1620.7) scale(1.05,1)" text-anchor="middle">30</text>
<text transform="translate(516.0,1620.7) scale(1.05,1)" text-anchor="middle">35</text>
<text transform="translate(639.3,1620.7) scale(1.05,1)" text-anchor="middle">40</text>
<text transform="translate(762.7,1620.7) scale(1.05,1)" text-anchor="middle">45</text>
<text transform="translate(886.0,1620.7) scale(1.05,1)" text-anchor="middle">50</text>
<text transform="translate(1009.3,1620.7) scale(1.05,1)" text-anchor="middle">55</text>
<text transform="translate(1132.7,1620.7) scale(1.05,1)" text-anchor="middle">60</text>
<text transform="translate(1256.0,1620.7) scale(1.05,1)" text-anchor="middle">65</text>
<text transform="translate(1379.3,1620.7) scale(1.05,1)" text-anchor="middle">70</text>
<text transform="translate(1502.7,1620.7) scale(1.05,1)" text-anchor="middle">75</text>
<text transform="translate(1626.0,1620.7) scale(1.05,1)" text-anchor="middle">80</text>
</g>
<text transform="translate(870.5,1714) scale(1.05,1)" text-anchor="middle" class="b xl" font-size="82">2θ/°</text>
<text transform="translate(78,430) rotate(-90)" text-anchor="middle" class="b yl" font-size="84">Intensity/a.u.</text>
<text transform="translate(78,1193) rotate(-90)" text-anchor="middle" class="b yl" font-size="84">Intensity/a.u.</text>
<text transform="translate(156,130.2) scale(1.045,1)" class="b ab" font-size="106" letter-spacing="1.5">(a)</text>
<text transform="translate(159.5,896) scale(1.045,1)" class="b ab" font-size="106" letter-spacing="1.5">(b)</text>
<!-- legend -->
<g fill="#ff0000" class="leg">
<text transform="translate(1376.5,88.6) scale(1.192,1.192)" x="-19.36" y="18.08" fill="#ff0000" style="font-size:64px;font-weight:normal;stroke:none">●</text>
<text transform="translate(1396.5,112) scale(1.035,1)">Fe<tspan class="sub" dy="27.5">5</tspan><tspan dy="-27.5">C</tspan><tspan class="sub" dy="27.5">2</tspan></text>
</g>
<g fill="#ff8000" class="leg">
<text transform="translate(1368.5,199.6) scale(1.281,1.203)" x="-21.04" y="19.12" fill="#ff8000" style="font-size:64px;font-weight:normal;stroke:none">♣</text>
<text transform="translate(1399.5,222.6) scale(1.035,1)">Fe<tspan class="sub" dy="29.5">7</tspan><tspan dy="-29.5">C</tspan><tspan class="sub" dy="29.5">3</tspan></text>
</g>
<g fill="#0000ff" class="leg">
<text transform="translate(1243.0,311.2) scale(1.389,1.195)" x="-19.04" y="17.68" fill="#0000ff" style="font-size:64px;font-weight:normal;stroke:none">♥</text>
<text transform="translate(1275,334) scale(1.035,1)">C<tspan class="sub" dy="28.5">0.09</tspan><tspan dy="-28.5" dx="3.5" letter-spacing="-1">Fe</tspan><tspan class="sub" dy="28.5" dx="-1.5" letter-spacing="-2">1.01</tspan></text>
</g>
<g fill="#000" class="leg">
<text transform="translate(1373.0,878.3) scale(1.376,1.209)" x="-16.32" y="18.72" fill="#000" style="font-size:64px;font-weight:normal;stroke:none">♦</text>
<text transform="translate(1426.5,902) scale(1.0,1)" font-size="87">Fe<tspan class="sub" font-size="52" dy="29">2</tspan><tspan dy="-29">B</tspan></text>
</g>
<!-- peak labels -->
<text transform="translate(541.8,392.5) scale(1.02,1) rotate(-90)" fill="#ff0000" class="pk">(002)</text>
<text transform="translate(523.0,407.7) rotate(-90) scale(0.836,0.836)" x="-19.36" y="18.08" fill="#ff0000" style="font-size:64px;font-weight:normal;stroke:none">●</text>
<text transform="translate(616,582) scale(1.02,1) rotate(-90)" fill="#ff8000" class="pk">(002)</text>
<text transform="translate(596.8,604.4) rotate(-90) scale(0.968,0.994)" x="-21.04" y="19.12" fill="#ff8000" style="font-size:64px;font-weight:normal;stroke:none">♣</text>
<text transform="translate(685,482.5) scale(1.02,1) rotate(-90)" fill="#ff0000" class="pk">(202)</text>
<text transform="translate(666.0,497.0) rotate(-90) scale(0.836,0.836)" x="-19.36" y="18.08" fill="#ff0000" style="font-size:64px;font-weight:normal;stroke:none">●</text>
<text transform="translate(741.5,189.3) scale(1.02,1) rotate(-90)" fill="#0000ff" class="pk">(101)</text>
<text transform="translate(723.3,213.2) rotate(-90) scale(1.042,0.972)" x="-19.04" y="17.68" fill="#0000ff" style="font-size:64px;font-weight:normal;stroke:none">♥</text>
<text transform="translate(809,234.7) scale(1.02,1) rotate(-90)" fill="#0000ff" class="pk">(110)</text>
<text transform="translate(791.6,259.5) rotate(-90) scale(1.042,0.972)" x="-19.04" y="17.68" fill="#0000ff" style="font-size:64px;font-weight:normal;stroke:none">♥</text>
<text transform="translate(880,230.5) scale(1.02,1) rotate(-90)" fill="#ff8000" class="pk">(124)</text>
<text transform="translate(861.0,254.3) rotate(-90) scale(0.968,0.994)" x="-21.04" y="19.12" fill="#ff8000" style="font-size:64px;font-weight:normal;stroke:none">♣</text>
<text transform="translate(929,529.5) scale(1.02,1) rotate(-90)" fill="#ff0000" class="pk">(312)</text>
<text transform="translate(910.0,544.0) rotate(-90) scale(0.836,0.836)" x="-19.36" y="18.08" fill="#ff0000" style="font-size:64px;font-weight:normal;stroke:none">●</text>
<text transform="translate(1000.5,525.8) scale(1.02,1) rotate(-90)" fill="#ff8000" class="pk">(222)</text>
<text transform="translate(981.0,551.0) rotate(-90) scale(0.968,0.994)" x="-21.04" y="19.12" fill="#ff8000" style="font-size:64px;font-weight:normal;stroke:none">♣</text>
<text transform="translate(1137,546.8) scale(1.02,1) rotate(-90)" fill="#ff0000" class="pk">-(113)</text>
<text transform="translate(1116.7,561.0) rotate(-90) scale(0.836,0.836)" x="-19.36" y="18.08" fill="#ff0000" style="font-size:64px;font-weight:normal;stroke:none">●</text>
<text transform="translate(1425.5,583.6) scale(1.02,1) rotate(-90)" fill="#ff0000" class="pk">-(802)</text>
<text transform="translate(1407.5,598.2) rotate(-90) scale(0.836,0.836)" x="-19.36" y="18.08" fill="#ff0000" style="font-size:64px;font-weight:normal;stroke:none">●</text>
<text transform="translate(1522,559.6) scale(1.02,1) rotate(-90)" fill="#ff0000" class="pk">-(423)</text>
<text transform="translate(1503.0,574.4) rotate(-90) scale(0.836,0.836)" x="-19.36" y="18.08" fill="#ff0000" style="font-size:64px;font-weight:normal;stroke:none">●</text>
<text transform="translate(275.2,1107.2) scale(1.02,1) rotate(-90)" fill="#000" class="pk">(110)</text>
<text transform="translate(256.2,1133.7) rotate(-90) scale(1.053,0.971)" x="-16.32" y="18.72" fill="#000" style="font-size:64px;font-weight:normal;stroke:none">♦</text>
<text transform="translate(528.5,1175.5) scale(1.02,1) rotate(-90)" fill="#000" class="pk">(200)</text>
<text transform="translate(511.3,1200.2) rotate(-90) scale(1.053,0.971)" x="-16.32" y="18.72" fill="#000" style="font-size:64px;font-weight:normal;stroke:none">♦</text>
<text transform="translate(710.2,1193.4) scale(1.02,1) rotate(-90)" fill="#000" class="pk">(004)</text>
<text transform="translate(692.2,1217.0) rotate(-90) scale(1.053,0.971)" x="-16.32" y="18.72" fill="#000" style="font-size:64px;font-weight:normal;stroke:none">♦</text>
<text transform="translate(825.8,966.8) scale(1.02,1) rotate(-90)" fill="#000" class="pk">(212)</text>
<text transform="translate(807.1,990.7) rotate(-90) scale(1.053,0.971)" x="-16.32" y="18.72" fill="#000" style="font-size:64px;font-weight:normal;stroke:none">♦</text>
<text transform="translate(898.2,1212.8) scale(1.02,1) rotate(-90)" fill="#000" class="pk">(220)</text>
<text transform="translate(880.4,1236.2) rotate(-90) scale(1.053,0.971)" x="-16.32" y="18.72" fill="#000" style="font-size:64px;font-weight:normal;stroke:none">♦</text>
<text transform="translate(1056.6,1009.4) scale(1.02,1) rotate(-90)" fill="#000" class="pk">(310)</text>
<text transform="translate(1038.0,1033.4) rotate(-90) scale(1.053,0.971)" x="-16.32" y="18.72" fill="#000" style="font-size:64px;font-weight:normal;stroke:none">♦</text>
</svg>
</body>
</html>
